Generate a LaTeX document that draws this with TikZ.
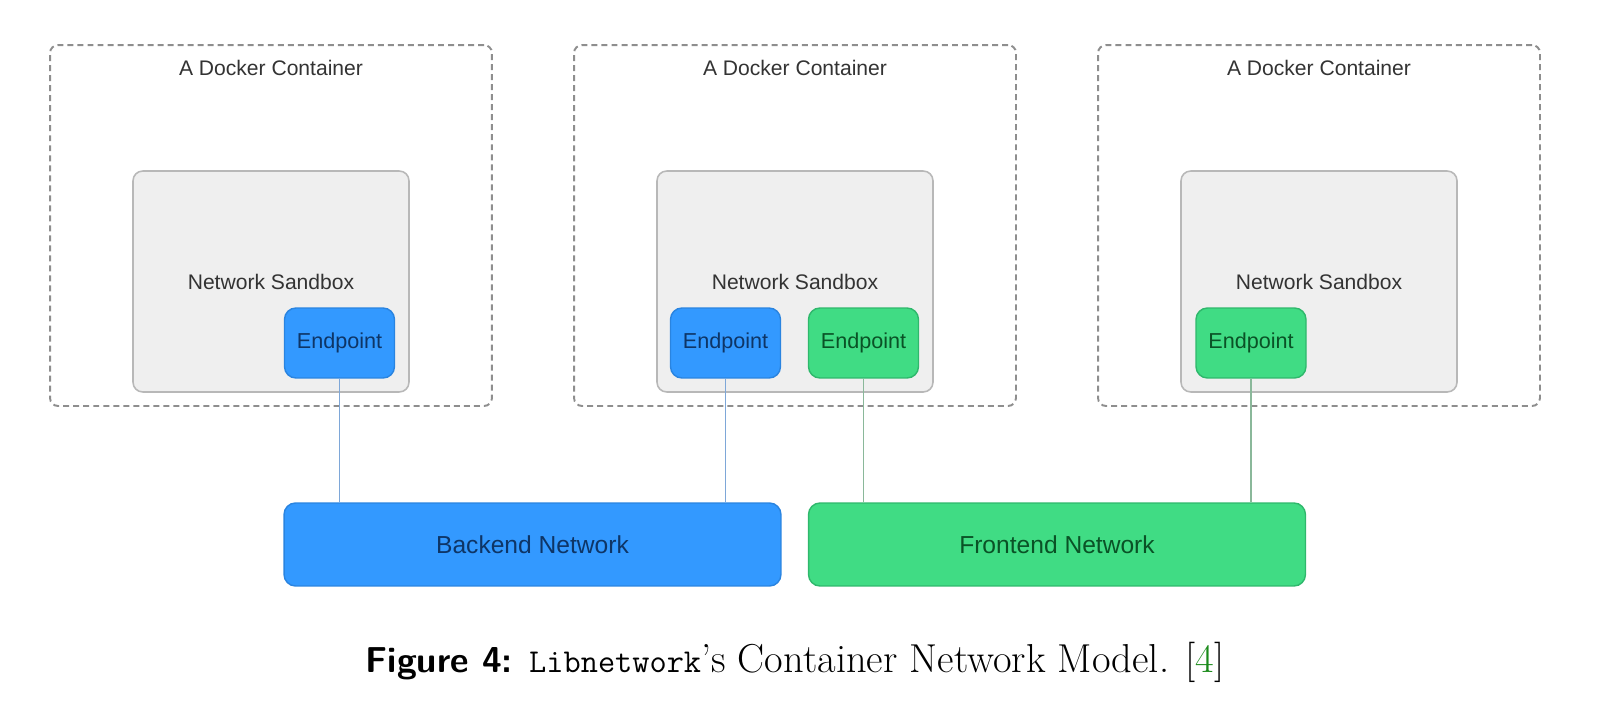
\documentclass[tikz,border=0pt]{standalone}
\usepackage{fontspec}
\newfontfamily\diag{Liberation Sans}
\definecolor{dashgray}{HTML}{8E8E8E}
\definecolor{sbfill}{HTML}{EFEFEF}
\definecolor{sbdraw}{HTML}{B8B8B8}
\definecolor{bluefill}{HTML}{3399FF}
\definecolor{bluedraw}{HTML}{2A84E0}
\definecolor{bluetext}{HTML}{0E3566}
\definecolor{greenfill}{HTML}{40DC84}
\definecolor{greendraw}{HTML}{2FB86C}
\definecolor{greentext}{HTML}{0A5226}
\definecolor{blueline}{HTML}{7EA7D8}
\definecolor{greenline}{HTML}{8AB89A}
\definecolor{citegreen}{HTML}{1A8A1A}
\tikzset{
  container/.style={draw=dashgray, line width=1.1pt, dash pattern=on 3.4pt off 2.3pt,
    rounded corners=4.5pt, minimum width=8.84cm, minimum height=7.22cm, inner sep=0pt},
  sandbox/.style={draw=sbdraw, fill=sbfill, line width=0.9pt, rounded corners=5.5pt,
    minimum width=5.52cm, minimum height=4.42cm, inner sep=0pt},
  bluebox/.style={draw=bluedraw, fill=bluefill, line width=0.8pt, text=bluetext},
  greenbox/.style={draw=greendraw, fill=greenfill, line width=0.8pt, text=greentext},
  endpointbox/.style={rounded corners=6.5pt, minimum width=2.2cm, minimum height=1.4cm,
    inner sep=0pt, font=\diag\fontsize{12.3}{14}\selectfont},
  netbox/.style={rounded corners=6.5pt, minimum width=9.94cm, minimum height=1.66cm,
    inner sep=0pt, font=\diag\fontsize{14}{16}\selectfont},
  lbl/.style={font=\diag\fontsize{12}{14}\selectfont, text=black!80, inner sep=0pt},
  bconn/.style={draw=blueline, line width=1.1pt},
  gconn/.style={draw=greenline, line width=1.1pt},
}
\begin{document}
\begin{tikzpicture}[x=0.02cm, y=-0.02cm]
\useasboundingbox (0,0) rectangle (1603,706);
% containers
\node[container] (c1) at (271,225.5) {};
\node[container] (c2) at (795,225.5) {};
\node[container] (c3) at (1319,225.5) {};
\node[lbl] (t1) at (271,67.5) {A Docker Container};
\node[lbl] (t2) at (795,67.5) {A Docker Container};
\node[lbl] (t3) at (1319,67.5) {A Docker Container};
% sandboxes
\node[sandbox] (s1) at (271,281.5) {};
\node[sandbox] (s2) at (795,281.5) {};
\node[sandbox] (s3) at (1319,281.5) {};
\node[lbl] (n1) at (271,282) {Network Sandbox};
\node[lbl] (n2) at (795,282) {Network Sandbox};
\node[lbl] (n3) at (1319,282) {Network Sandbox};
% endpoints
\node[endpointbox, bluebox] (e1) at (339.5,343) {Endpoint};
\node[endpointbox, bluebox] (e2) at (725.5,343) {Endpoint};
\node[endpointbox, greenbox] (e3) at (863.5,343) {Endpoint};
\node[endpointbox, greenbox] (e4) at (1251,343) {Endpoint};
% networks
\node[netbox, bluebox] (back) at (532.5,544.5) {Backend Network};
\node[netbox, greenbox] (front) at (1057,544.5) {Frontend Network};
% connectors
\draw[bconn] (e1.south) -- (e1.south |- back.north);
\draw[bconn] (e2.south) -- (e2.south |- back.north);
\draw[gconn] (e3.south) -- (e3.south |- front.north);
\draw[gconn] (e4.south) -- (e4.south |- front.north);
% caption
\node[inner sep=0pt, font=\fontsize{23}{27}\selectfont] (cap) at (795,662)
  {{\sffamily\bfseries\fontsize{20.5}{25}\selectfont Figure 4:} {\ttfamily\fontsize{19}{25}\selectfont Libnetwork}’s Container Network Model. [{\color{citegreen}4}]};
\end{tikzpicture}
\end{document}
